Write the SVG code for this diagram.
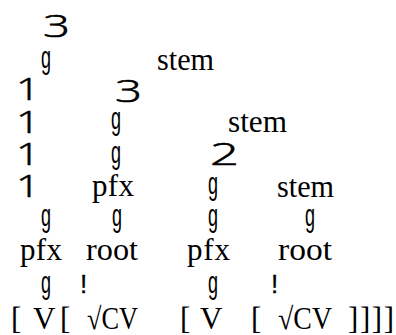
<svg xmlns="http://www.w3.org/2000/svg" width="396" height="335" viewBox="0 0 396 335">
<style>
.t{font-family:"Liberation Serif","Times New Roman",serif;font-size:31px;fill:#000}
.d{font-family:"Open Sans","Liberation Sans",Arial,sans-serif;font-weight:300;font-size:31px;fill:#000;stroke:#000;stroke-width:0.6}
.g{font-family:"Liberation Sans",Arial,sans-serif;font-size:31px;fill:#000}
.x{font-family:"Liberation Sans",Arial,sans-serif;font-size:26px;fill:#000;stroke:#000;stroke-width:0.3}
</style>
<rect width="396" height="335" fill="#fff"/>
<g id="branches">
<text class="d" x="43" y="37" textLength="27" lengthAdjust="spacingAndGlyphs">3</text>
<text class="d" x="115" y="102" textLength="27" lengthAdjust="spacingAndGlyphs">3</text>
<text class="d" x="210" y="165" textLength="29" lengthAdjust="spacingAndGlyphs">2</text>
<text class="d" x="16" y="100" textLength="24" lengthAdjust="spacingAndGlyphs">1</text>
<text class="d" x="16" y="133" textLength="24" lengthAdjust="spacingAndGlyphs">1</text>
<text class="d" x="16" y="165" textLength="24" lengthAdjust="spacingAndGlyphs">1</text>
<text class="d" x="16" y="197" textLength="24" lengthAdjust="spacingAndGlyphs">1</text>
</g>
<g id="g-marks">
<text class="g" x="41" y="68" textLength="10" lengthAdjust="spacingAndGlyphs">g</text>
<text class="g" x="111" y="129" textLength="10" lengthAdjust="spacingAndGlyphs">g</text>
<text class="g" x="111" y="163" textLength="10" lengthAdjust="spacingAndGlyphs">g</text>
<text class="g" x="208" y="194" textLength="10" lengthAdjust="spacingAndGlyphs">g</text>
<text class="g" x="41" y="226" textLength="10" lengthAdjust="spacingAndGlyphs">g</text>
<text class="g" x="112" y="226" textLength="10" lengthAdjust="spacingAndGlyphs">g</text>
<text class="g" x="208" y="226" textLength="10" lengthAdjust="spacingAndGlyphs">g</text>
<text class="g" x="305" y="226" textLength="10" lengthAdjust="spacingAndGlyphs">g</text>
<text class="g" x="41" y="293" textLength="10" lengthAdjust="spacingAndGlyphs">g</text>
<text class="g" x="208" y="293" textLength="10" lengthAdjust="spacingAndGlyphs">g</text>
<text class="x" x="80" y="293">!</text>
<text class="x" x="271" y="293">!</text>
</g>
<g id="labels">
<text class="t" x="157" y="70" textLength="57" lengthAdjust="spacingAndGlyphs">stem</text>
<text class="t" x="228" y="132" textLength="59" lengthAdjust="spacingAndGlyphs">stem</text>
<text class="t" x="277" y="197" textLength="57" lengthAdjust="spacingAndGlyphs">stem</text>
<text class="t" x="92" y="196" textLength="42" lengthAdjust="spacing">pfx</text>
<text class="t" x="20" y="260" textLength="42" lengthAdjust="spacing">pfx</text>
<text class="t" x="187" y="260" textLength="43" lengthAdjust="spacing">pfx</text>
<text class="t" x="86" y="260" textLength="52" lengthAdjust="spacingAndGlyphs">root</text>
<text class="t" x="278" y="260" textLength="54" lengthAdjust="spacingAndGlyphs">root</text>
</g>
<g id="bracketing">
<text class="t" x="11" y="329">[</text>
<text class="t" x="33" y="329">V</text>
<text class="t" x="60" y="329">[</text>
<text class="t" x="87" y="329" textLength="51" lengthAdjust="spacingAndGlyphs">√CV</text>
<text class="t" x="180" y="329">[</text>
<text class="t" x="200" y="329">V</text>
<text class="t" x="251" y="329">[</text>
<text class="t" x="278" y="329" textLength="54" lengthAdjust="spacingAndGlyphs">√CV</text>
<text class="t" x="348" y="329" textLength="46" lengthAdjust="spacing">]]]]</text>
</g>
</svg>
